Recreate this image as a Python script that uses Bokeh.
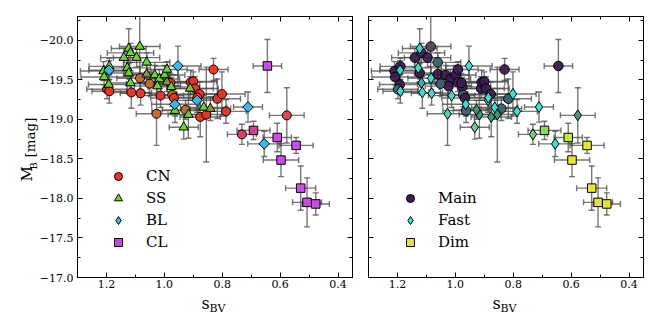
import numpy as np
from bokeh.plotting import figure
from bokeh.models import (ColumnDataSource, Range1d, LinearAxis, FixedTicker,
                          CustomJSTickFormatter, Legend, LegendItem, Title)
from bokeh.layouts import row
from bokeh.embed import file_html
from bokeh.resources import INLINE

# ---------------- data ----------------
s_bv = [1.210, 1.208, 1.192, 1.191, 1.190, 1.198, 1.190, 1.140, 1.123, 1.117,
        1.128, 1.123, 1.117, 1.096, 1.085, 1.061, 1.061, 1.033, 1.017, 1.024,
        0.999, 0.991, 0.991, 0.976, 0.911, 0.963, 0.917, 0.933, 0.864, 0.841,
        0.953, 0.964, 0.887, 0.711, 0.655,
        1.114, 1.082, 1.084, 1.051, 1.027, 1.013, 0.973, 0.967, 0.979, 0.927,
        0.909, 0.900, 0.894, 0.878, 0.886, 0.876, 0.855, 0.830, 0.817, 0.801,
        0.787, 0.732, 0.577,
        0.644, 0.692, 0.610, 0.545, 0.597, 0.529, 0.507, 0.477]
m_b = [-19.61, -19.535, -19.44, -19.62, -19.67, -19.38, -19.355, -19.78, -19.895, -19.84,
       -19.65, -19.585, -19.46, -19.78, -19.92, -19.72, -19.57, -19.56, -19.51, -19.42,
       -19.56, -19.63, -19.47, -19.41, -19.39, -19.11, -19.06, -18.90, -19.15, -19.135,
       -19.675, -19.19, -19.24, -19.155, -18.69,
       -19.34, -19.33, -19.52, -19.45, -19.07, -19.30, -19.31, -19.27, -19.46, -19.12,
       -19.47, -19.48, -19.39, -19.32, -19.275, -19.03, -19.06, -19.63, -19.26, -19.32,
       -19.10, -18.81, -19.05,
       -19.675, -18.86, -18.77, -18.67, -18.485, -18.13, -17.95, -17.93]
s_bv_err = [0.08, 0.08, 0.07, 0.07, 0.07, 0.07, 0.06, 0.08, 0.06, 0.08,
            0.08, 0.08, 0.07, 0.08, 0.07, 0.08, 0.08, 0.08, 0.07, 0.08,
            0.07, 0.07, 0.08, 0.08, 0.08, 0.08, 0.07, 0.05, 0.08, 0.07,
            0.08, 0.08, 0.08, 0.05, 0.057,
            0.07, 0.07, 0.08, 0.08, 0.07, 0.08, 0.08, 0.08, 0.08, 0.08,
            0.08, 0.08, 0.08, 0.08, 0.08, 0.07, 0.07, 0.05, 0.08, 0.08,
            0.07, 0.05, 0.06,
            0.049, 0.057, 0.049, 0.059, 0.061, 0.052, 0.05, 0.047]
m_b_err = [0.12, 0.10, 0.12, 0.12, 0.10, 0.12, 0.15, 0.12, 0.25, 0.12,
           0.10, 0.12, 0.15, 0.12, 0.45, 0.12, 0.12, 0.12, 0.12, 0.12,
           0.12, 0.10, 0.12, 0.12, 0.15, 0.15, 0.30, 0.15, 0.15, 0.15,
           0.25, 0.15, 0.15, 0.19, 0.16,
           0.20, 0.15, 0.15, 0.15, 0.40, 0.15, 0.15, 0.15, 0.12, 0.12,
           0.15, 0.12, 0.15, 0.15, 0.15, 0.25, 0.60, 0.14, 0.25, 0.28,
           0.15, 0.127, 0.35,
           0.335, 0.115, 0.18, 0.10, 0.21, 0.28, 0.31, 0.14]
branch = (["SS"] * 3 + ["BL"] + ["SS"] + ["CN"] * 2 + ["SS"] * 23
          + ["BL"] * 5 + ["CN"] * 23 + ["CL"] * 8)
cluster = ["Main", "Main", "Main", "Fast", "Main", "Main", "Fast", "Main", "Fast", "Main",
           "Fast", "Main", "Fast", "Main", "Main", "Main", "Main", "Main", "Main", "Main",
           "Main", "Main", "Main", "Main", "Main", "Main", "Fast", "Fast", "Fast", "Main",
           "Fast", "Fast", "Fast", "Fast", "Fast",
           "Fast", "Fast", "Fast", "Main", "Fast", "Fast", "Main", "Main", "Main", "Fast",
           "Main", "Main", "Main", "Main", "Fast", "Fast", "Fast", "Main", "Main", "Fast",
           "Fast", "Fast", "Fast",
           "Main", "Dim", "Dim", "Dim", "Dim", "Dim", "Dim", "Dim"]
branch_order = ["CN", "SS", "BL", "CL"]
cluster_order = ["Main", "Fast", "Dim"]
x_ticks = [0.4, 0.6, 0.8, 1.0, 1.2]
y_ticks = [-20.0, -19.5, -19.0, -18.5, -18.0, -17.5, -17.0]

# ---------------- styles ----------------
R, BR, PK, PR = "#ee3322", "#cc6633", "#e8306a", "#e83a50"
G, OL = "#66dd22", "#88a022"
B = "#33bbee"
C, CP = "#cc44ee", "#dd3399"
left_colors = ([G, G, G, B, G, R, R, G, G, G,
                G, G, G, G, G, G, OL, G, G, G,
                G, G, OL, G, G, G, G, G, G, OL,
                B, B, B, B, B,
                R, R, BR, BR, BR, R, BR, R, R, BR,
                R, R, R, R, R, R, R, R, R, R,
                R, PK, PR,
                C, CP, C, C, C, C, C, C])
MN, GP, TG = "#3d1c54", "#574657", "#3a6270"
FS, TD, GD, LG = "#33e8d8", "#30b8a8", "#3c9a72", "#66d08a"
DM, LS, YG = "#e8e822", "#88e050", "#c0e830"
right_colors = ([MN, MN, MN, FS, MN, TG, FS, MN, FS, MN,
                 FS, MN, TD, MN, GP, TG, MN, MN, MN, MN,
                 MN, MN, MN, MN, MN, TG, GD, LG, FS, TG,
                 FS, FS, FS, FS, FS,
                 FS, FS, FS, TG, "#44d8b0", FS, TG, MN, MN, GD,
                 MN, MN, MN, MN, FS, GD, GD, MN, TG, FS,
                 FS, LG, GD,
                 MN, LS, YG, DM, DM, DM, DM, DM])

left_style = {"CN": dict(marker="circle", size=9, angle=0.0, color=R, lm="circle", ls=7),
              "SS": dict(marker="triangle", size=9.5, angle=0.0, color=G, lm="triangle", ls=7.5),
              "BL": dict(marker="square", size=7.5, angle=np.pi / 4, color=B, lm="diamond", ls=10),
              "CL": dict(marker="square", size=8.5, angle=0.0, color=C, lm="square", ls=7)}
right_style = {"Main": dict(marker="circle", size=9.5, angle=0.0, color=MN, lm="circle", ls=7.5),
               "Fast": dict(marker="diamond", size=11, angle=0.0, color=FS, lm="diamond", ls=9.5),
               "Dim": dict(marker="square", size=8.5, angle=0.0, color=DM, lm="square", ls=7.5)}

SERIF = "DejaVu Serif"
FRAME_W, FRAME_H = 275, 261
X0, X1, Y0, Y1 = 1.3, 0.35, -17.0, -20.3

x = np.array(s_bv)
y = np.array(m_b)
xe = np.array(s_bv_err)
ye = np.array(m_b_err)


def style_axis(ax, show_labels, standoff=4):
    ax.axis_line_color = "black"
    ax.major_tick_in = 5
    ax.major_tick_out = 0
    ax.minor_tick_in = 3
    ax.minor_tick_out = 0
    ax.major_tick_line_color = "black"
    ax.minor_tick_line_color = "black"
    ax.major_label_text_font = SERIF
    ax.major_label_text_font_size = "11px"
    ax.major_label_text_color = "black"
    if show_labels:
        ax.major_label_standoff = standoff
        ax.formatter = CustomJSTickFormatter(
            code="return (tick < 0 ? '\\u2212' : '') + Math.abs(tick).toFixed(1);")
    else:
        ax.major_label_standoff = 0
        ax.formatter = CustomJSTickFormatter(code="return '';")


def title(text, size, align, offset, valign, standoff):
    return Title(text=text, align=align, offset=offset, vertical_align=valign,
                 standoff=standoff, text_font=SERIF, text_font_size=size,
                 text_font_style="normal", text_color="black")


def make_panel(groups, colors, order, styles, show_ylabels, border_left):
    p = figure(width=border_left + FRAME_W + 8, height=16 + FRAME_H + 45,
               x_range=Range1d(X0, X1), y_range=Range1d(Y0, Y1),
               output_backend="svg", toolbar_location=None,
               min_border_left=border_left, min_border_right=8,
               min_border_top=16, min_border_bottom=45)
    p.grid.visible = False
    p.outline_line_color = "black"
    p.outline_line_width = 1
    p.background_fill_color = "white"
    p.border_fill_color = "white"

    p.add_layout(LinearAxis(), "above")
    p.add_layout(LinearAxis(), "right")

    xminor = [0.5, 0.7, 0.9, 1.1]
    yminor = [-20.25, -19.75, -19.25, -18.75, -18.25, -17.75, -17.25]
    for ax in p.xaxis:
        style_axis(ax, False)
        ax.ticker = FixedTicker(ticks=x_ticks, minor_ticks=xminor)
    for ax in p.yaxis:
        style_axis(ax, False)
        ax.ticker = FixedTicker(ticks=y_ticks, minor_ticks=yminor)
    style_axis(p.below[0], True, standoff=2)
    if show_ylabels:
        style_axis(p.left[0], True, standoff=4)

    # error bars
    eb = dict(line_color="#4a4a4a", line_alpha=0.75, line_width=1.4)
    p.segment(x0=x - xe, x1=x + xe, y0=y, y1=y, **eb)
    p.segment(x0=x, x1=x, y0=y - ye, y1=y + ye, **eb)
    p.scatter(x=np.r_[x - xe, x + xe], y=np.r_[y, y], marker="dash",
              angle=np.pi / 2, size=6, **eb)
    p.scatter(x=np.r_[x, x], y=np.r_[y - ye, y + ye], marker="dash",
              size=6, **eb)

    # markers per group
    g = np.array(groups)
    col = np.array(colors)
    items = []
    for name in order:
        st = styles[name]
        m = g == name
        src = ColumnDataSource(dict(x=x[m], y=y[m], c=col[m]))
        p.scatter("x", "y", source=src, marker=st["marker"], size=st["size"],
                  angle=st["angle"], fill_color="c", line_color="black",
                  line_width=1, fill_alpha=0.95)
        # legend-only glyph (never drawn on the plot area)
        key = p.scatter(x=[np.nan], y=[np.nan], marker=st["lm"], size=st["ls"],
                        fill_color=st["color"], line_color="black", line_width=1)
        items.append(LegendItem(label=name, renderers=[key]))

    leg = Legend(items=items, location=(31, 25), padding=0, margin=0,
                 border_line_color=None, background_fill_alpha=0,
                 glyph_width=20, glyph_height=20, label_height=20,
                 spacing=2, label_standoff=18, label_text_color="black",
                 label_text_font=SERIF, label_text_font_size="15px")
    p.add_layout(leg, "center")

    # x axis label  s_BV
    p.add_layout(title("s", "16px", "left", 124, "bottom", 2), "below")
    p.add_layout(title("BV", "11px", "left", 132, "top", -24), "below")
    if show_ylabels:
        # y axis label  M_B [mag]
        p.add_layout(title("B", "10px", "left", 108, "top", -9), "left")
        p.add_layout(title("M", "15px", "left", 96, "bottom", -7), "left")
        p.add_layout(title("[mag]", "13.5px", "left", 120, "bottom", -36), "left")
    return p


p1 = make_panel(branch, left_colors, branch_order, left_style, True, 77)
p2 = make_panel(cluster, right_colors, cluster_order, right_style, False, 8)
p2.legend[0].location = (32, 25)

layout = row(p1, p2)
open("out.html", "w", encoding="utf-8").write(file_html(layout, INLINE))
